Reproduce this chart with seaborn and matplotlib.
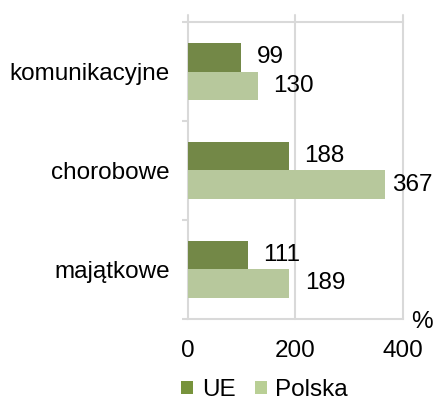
import pandas as pd
import matplotlib.pyplot as plt
import seaborn as sns
from matplotlib.patches import Patch

sns.set_style("white")
plt.rcParams['font.family'] = ['Liberation Sans', 'DejaVu Sans']
plt.rcParams['text.color'] = 'black'
plt.rcParams['xtick.color'] = 'black'
plt.rcParams['ytick.color'] = 'black'

# --------------------------------
# Data
# --------------------------------
categories = ["komunikacyjne", "chorobowe", "majątkowe"]
series = ["UE", "Polska"]
ue_values = [99, 188, 111]
pl_values = [130, 367, 189]
x_ticks = [0, 200, 400]

colors = ["#77933C", "#B9CF95"]
grid_color = "#D9D9D9"
fs = 17.5

df = pd.DataFrame({
    "kategoria": categories * 2,
    "seria": [series[0]] * 3 + [series[1]] * 3,
    "wartosc": ue_values + pl_values,
})

# --------------------------------
# Plot
# --------------------------------
fig = plt.figure(figsize=(4.35, 4.01), dpi=100)
ax = fig.add_axes([0.432, 0.205, 0.494, 0.74])

sns.barplot(data=df, y="kategoria", x="wartosc", hue="seria", order=categories,
            hue_order=series, palette=colors, width=0.57, orient="h",
            linewidth=0, errorbar=None, ax=ax)

ax.set_xlim(0, 400)
ax.set_ylim(2.5, -0.5)
ax.set_xticks(x_ticks)
ax.set_xlabel("")
ax.set_ylabel("")

# vertical grid lines, extending above the top a little
for xv in x_ticks:
    ax.plot([xv, xv], [2.5, -0.57], color=grid_color, lw=1.5, clip_on=False, zorder=0)

# category boundaries (top / bottom lines and left ticks)
ax.spines["right"].set_visible(False)
ax.spines["left"].set_visible(False)
for sp in ["top", "bottom"]:
    ax.spines[sp].set_color(grid_color)
    ax.spines[sp].set_linewidth(1.5)
ax.set_yticks([-0.5, 0.5, 1.5, 2.5], minor=True)
ax.tick_params(axis="y", which="minor", length=4, width=1.5, color=grid_color, left=True)
ax.tick_params(axis="y", which="major", length=0, pad=13, labelsize=fs)
ax.tick_params(axis="x", length=0, pad=15, labelsize=fs)

# value labels
for cont, vals in zip(ax.containers, [ue_values, pl_values]):
    for bar, v in zip(cont, vals):
        off = 5 if v > 300 else 11
        ax.annotate(str(v), xy=(bar.get_width(), bar.get_y() + bar.get_height() / 2),
                    xytext=(off, 0), textcoords="offset points",
                    ha="left", va="center", fontsize=fs, annotation_clip=False)

ax.text(1.04, -0.01, "%", transform=ax.transAxes, ha="left", va="center", fontsize=fs)

# legend
ax.get_legend().remove()
handles = [Patch(facecolor=c, edgecolor="none") for c in colors]
fig.legend(handles, series, loc="center", bbox_to_anchor=(0.608, 0.027), ncol=2,
           frameon=False, fontsize=fs, handlelength=0.5, handleheight=0.5,
           handletextpad=0.35, columnspacing=0.8)

plt.savefig("out.png", dpi=100)
